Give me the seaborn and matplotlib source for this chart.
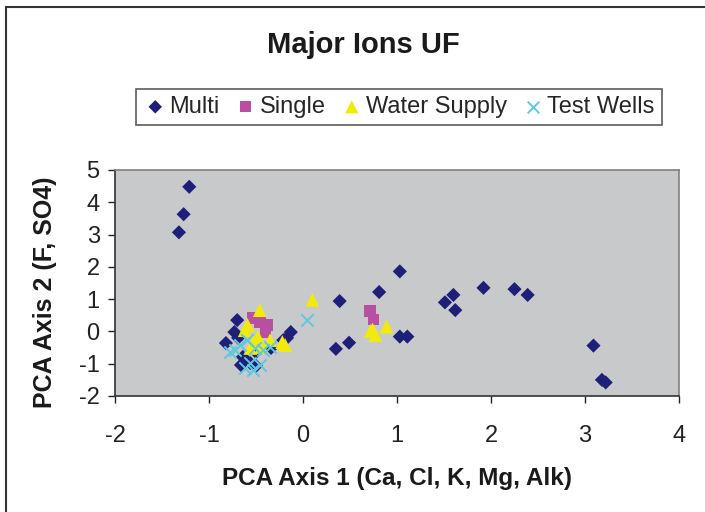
import matplotlib
matplotlib.use("Agg")
import matplotlib.pyplot as plt
from matplotlib.patches import Rectangle
import pandas as pd
import seaborn as sns

# PCA scores (Axis 1, Axis 2) for each well group
multi_x = [-1.21, -1.27, -1.32, 1.03, 0.81, 0.39, 0.35, 0.49, 1.03, 1.11,
           1.51, 1.60, 1.62, 1.92, 2.25, 2.39, 3.09, 3.18, 3.22,
           -0.82, -0.70, -0.73, -0.69, -0.64, -0.66, -0.56, -0.50, -0.50,
           -0.34, -0.21, -0.13, -0.17]
multi_y = [4.48, 3.63, 3.07, 1.86, 1.22, 0.94, -0.54, -0.35, -0.16, -0.16,
           0.90, 1.13, 0.66, 1.35, 1.31, 1.13, -0.44, -1.50, -1.58,
           -0.36, 0.35, -0.02, -0.20, -0.79, -1.04, -0.98, -1.07, -0.64,
           -0.51, -0.27, -0.02, -0.20]

single_x = [0.71, 0.75, -0.53, -0.46, -0.38, -0.40]
single_y = [0.64, 0.37, 0.41, 0.29, 0.20, -0.02]

supply_x = [0.10, 0.74, 0.77, 0.89, 0.72,
            -0.46, -0.59, -0.62, -0.48, -0.53, -0.35, -0.22, -0.44, -0.56, -0.19]
supply_y = [0.98, 0.06, -0.11, 0.15, 0.02,
            0.66, 0.20, 0.04, -0.17, -0.33, -0.27, -0.33, -0.48, -0.51, -0.42]

test_x = [0.04, -0.67, -0.72, -0.60, -0.51, -0.43, -0.35, -0.56, -0.46,
          -0.53, -0.62, -0.78]
test_y = [0.35, -0.42, -0.58, -0.27, -0.51, -0.58, -0.48, -0.98, -1.04,
          -1.20, -1.13, -0.64]

x_ticks = [-2, -1, 0, 1, 2, 3, 4]
y_ticks = [-2, -1, 0, 1, 2, 3, 4, 5]

sns.set_theme(style="white")
plt.rcParams["font.family"] = ["Liberation Sans", "DejaVu Sans"]

fig = plt.figure(figsize=(7.05, 5.12), dpi=100)
ax = fig.add_axes([115 / 705, 1 - 396 / 512, 564 / 705, 226 / 512])
ax.set_facecolor("#C8C9CB")

groups = [
    ("Multi", multi_x, multi_y, "D", "#1F1F7A", 52, 0),
    ("Single", single_x, single_y, "s", "#B84FA0", 72, 0),
    ("Water Supply", supply_x, supply_y, "^", "#F2EA0A", 100, 0),
    ("Test Wells", test_x, test_y, "x", "#5FC8DE", 78, 1.4),
]
for name, xs, ys, mk, col, size, lw in groups:
    df = pd.DataFrame({"x": xs, "y": ys})
    sns.scatterplot(data=df, x="x", y="y", ax=ax, marker=mk, color=col,
                    s=size, linewidth=lw, edgecolor=col if mk == "x" else "none",
                    label=name, zorder=3)

ax.set_xlim(-2, 4)
ax.set_ylim(-2, 5)
ax.set_xticks(x_ticks)
ax.set_yticks(y_ticks)
ax.set_xticklabels([str(t) for t in x_ticks])
ax.set_yticklabels([str(t) for t in y_ticks])
ax.tick_params(axis="both", labelsize=17, colors="#222222", direction="out",
               length=5, width=1, bottom=True, left=True)
ax.tick_params(axis="x", pad=16)
ax.tick_params(axis="y", pad=6)
for side in ["top", "right"]:
    ax.spines[side].set_color("#808080")
    ax.spines[side].set_linewidth(1.2)
for side in ["left", "bottom"]:
    ax.spines[side].set_color("#333333")
    ax.spines[side].set_linewidth(1.2)

ax.set_xlabel("")
ax.set_ylabel("")
fig.text(397 / 705, 1 - 478 / 512, "PCA Axis 1 (Ca, Cl, K, Mg, Alk)",
         ha="center", va="center", fontsize=17.5, fontweight="bold", color="#1a1a1a")
fig.text(45 / 705, 1 - 292 / 512, "PCA Axis 2 (F, SO4)", rotation=90,
         ha="center", va="center", fontsize=18, fontweight="bold", color="#1a1a1a")
fig.text(363 / 705, 1 - 45 / 512, "Major Ions UF", ha="center", va="center",
         fontsize=21, fontweight="bold", color="#1a1a1a")

handles, labels = ax.get_legend_handles_labels()
ax.get_legend().remove()
leg = fig.legend(handles, labels, loc="center", ncol=4,
                 bbox_to_anchor=(399 / 705, 1 - 107 / 512), fontsize=17,
                 frameon=True, fancybox=False, edgecolor="#333333",
                 markerscale=0.95, handletextpad=0.1, columnspacing=0.6,
                 handlelength=1.0, borderpad=0.3, borderaxespad=0)
leg.get_frame().set_linewidth(1.2)

# outer chart border
fig.patches.append(Rectangle((6 / 705, -0.1), 1.2, 1.1 - 7 / 512,
                             transform=fig.transFigure, fill=False,
                             edgecolor="#333333", linewidth=1.5))

fig.savefig("out.png", dpi=100)
